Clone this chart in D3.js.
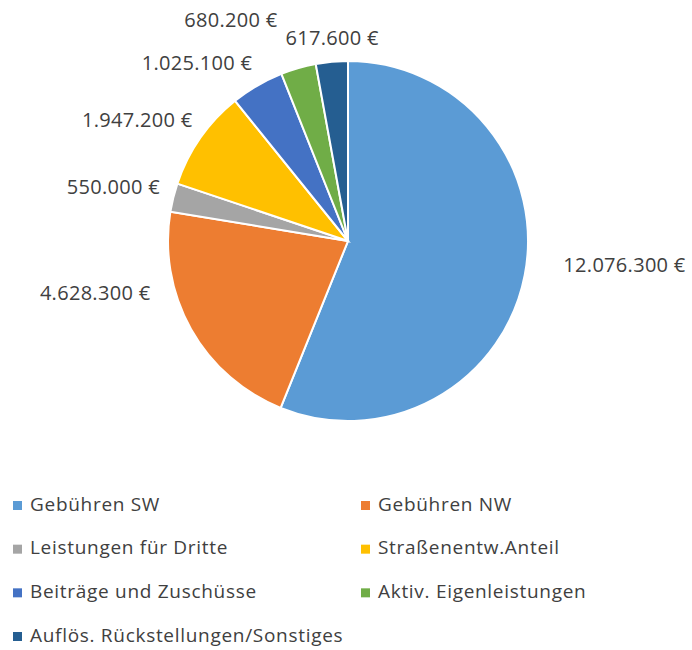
<!DOCTYPE html>
<html>
<head>
<meta charset="utf-8">
<script src="https://cdn.jsdelivr.net/npm/d3@7"></script>
<style>
  body { margin: 0; background: #fff; }
  text { font-family: "Open Sans", sans-serif; fill: #404040; }
</style>
</head>
<body>
<div id="chart"></div>
<script>
// data
var categories = ["Gebühren SW", "Gebühren NW", "Leistungen für Dritte", "Straßenentw.Anteil",
                  "Beiträge und Zuschüsse", "Aktiv. Eigenleistungen", "Auflös. Rückstellungen/Sonstiges"];
var values = [12076300, 4628300, 550000, 1947200, 1025100, 680200, 617600];
var colors = ["#5B9BD5", "#ED7D31", "#A5A5A5", "#FFC000", "#4472C4", "#70AD47", "#255E91"];

// label nudges (Excel best-fit placement)
var labelNudge = [[21, -14], [-25, -45], [4, -6], [7, -8], [4, -7], [-16, -31], [2, -6]];

var width = 692, height = 650;
var cx = 348, cy = 241, radius = 180;

var svg = d3.select("#chart")
  .append("svg")
    .attr("width", width)
    .attr("height", height);

var data = categories.map(function(c, i) { return {name: c, value: values[i], color: colors[i], i: i}; });

var pie = d3.pie()
  .sort(null)
  .value(function(d) { return d.value; });

var arc = d3.arc().innerRadius(0).outerRadius(radius);
var labelArc = d3.arc().innerRadius(198).outerRadius(198);

var g = svg.append("g")
  .attr("transform", "translate(" + cx + "," + cy + ")");

var arcs = pie(data);

g.selectAll("path")
  .data(arcs)
  .enter()
  .append("path")
    .attr("d", arc)
    .attr("fill", function(d) { return d.data.color; })
    .attr("stroke", "#fff")
    .attr("stroke-width", 2);

var fmt = d3.formatLocale({decimal: ",", thousands: ".", grouping: [3], currency: ["", " €"]}).format(",.0f");

g.selectAll("text.lbl")
  .data(arcs)
  .enter()
  .append("text")
    .attr("class", "lbl")
    .attr("x", function(d) { return labelArc.centroid(d)[0] + labelNudge[d.data.i][0]; })
    .attr("y", function(d) { return labelArc.centroid(d)[1] + labelNudge[d.data.i][1]; })
    .attr("dy", "0.35em")
    .attr("text-anchor", function(d) {
      var mid = (d.startAngle + d.endAngle) / 2;
      if (d.data.i === 6) return "middle";
      return mid < Math.PI ? "start" : "end";
    })
    .style("font-size", "20px")
    .style("letter-spacing", "0.3px")
    .text(function(d) { return fmt(d.data.value) + " €"; });

// legend
var legend = svg.append("g");
var legendX = d3.scaleOrdinal().domain([0, 1]).range([13, 361]);
var legendY = d3.scalePoint().domain([0, 1, 2, 3]).range([504, 635]);

var items = legend.selectAll("g.item")
  .data(data)
  .enter()
  .append("g")
    .attr("class", "item")
    .attr("transform", function(d) {
      return "translate(" + legendX(d.i % 2) + "," + legendY(Math.floor(d.i / 2)) + ")";
    });

items.append("rect")
  .attr("x", 0)
  .attr("y", -3)
  .attr("width", 9)
  .attr("height", 9)
  .attr("fill", function(d) { return d.color; });

items.append("text")
  .attr("x", 17)
  .attr("dy", "0.35em")
  .style("font-size", "19px")
  .style("letter-spacing", "0.7px")
  .text(function(d) { return d.name; });
</script>
</body>
</html>
